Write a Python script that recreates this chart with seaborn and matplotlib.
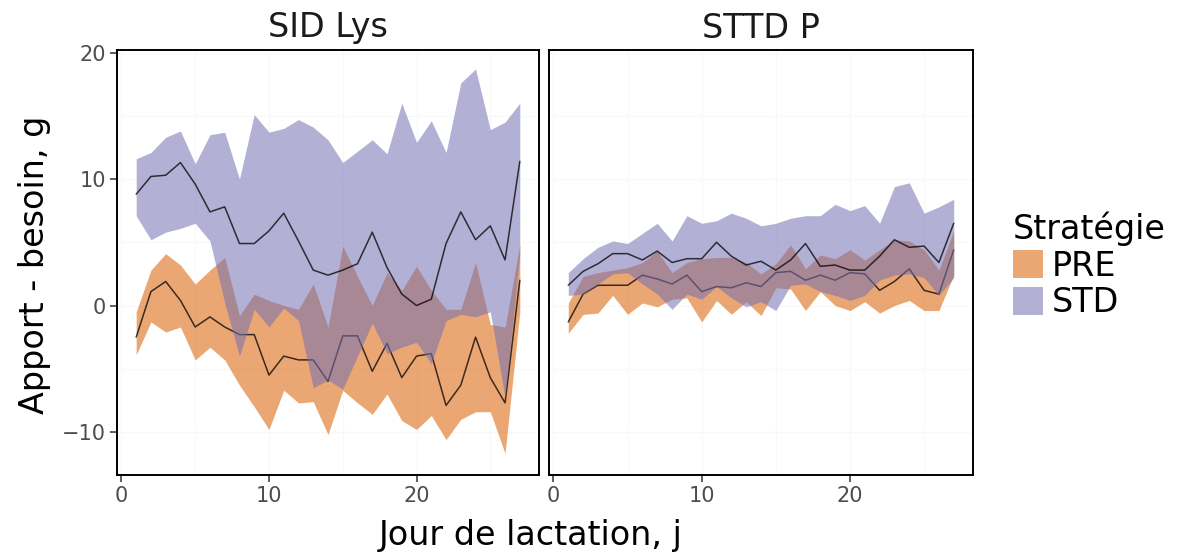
import matplotlib
matplotlib.use("Agg")
import matplotlib.pyplot as plt
from matplotlib.patches import Patch
import seaborn as sns

sns.set_theme(style="white")
plt.rcParams["font.family"] = ["DejaVu Sans"]
plt.rcParams["text.color"] = "black"

# Lactation day
days = [1, 2, 3, 4, 5, 6, 7, 8, 9, 10, 11, 12, 13, 14, 15, 16, 17, 18, 19, 20,
        21, 22, 23, 24, 25, 26, 27]

# SID Lys: supply minus requirement (g), mean and ribbon limits
lys_pre_mean = [-2.5, 1.1, 1.9, 0.4, -1.7, -0.9, -1.7, -2.3, -2.3, -5.5, -4.0, -4.3, -4.3, -6.0,
                -2.4, -2.4, -5.2, -3.0, -5.7, -4.0, -3.8, -7.9, -6.3, -2.5, -5.7, -7.7, 2.0]
lys_pre_lo = [-3.9, -1.3, -2.1, -1.7, -4.3, -3.3, -4.3, -6.3, -8.0, -9.8, -6.7, -7.7, -7.6, -10.2,
              -6.7, -7.7, -8.6, -7.0, -9.1, -9.8, -8.7, -10.6, -9.0, -8.4, -8.4, -11.7, -0.5]
lys_pre_hi = [-0.5, 2.8, 4.1, 3.2, 1.7, 2.8, 3.8, -0.8, 0.9, 0.4, 0.0, -0.3, 1.7, -1.7,
              4.7, 2.3, 0.0, 2.6, 1.2, 3.1, 1.2, -0.3, -0.3, 3.4, -1.5, -1.7, 4.8]
lys_std_mean = [8.8, 10.2, 10.3, 11.3, 9.6, 7.4, 7.8, 4.9, 4.9, 5.9, 7.3, 5.1, 2.8, 2.4,
                2.8, 3.3, 5.8, 3.0, 0.9, 0.0, 0.5, 4.9, 7.4, 5.2, 6.3, 3.6, 11.4]
lys_std_lo = [7.1, 5.2, 5.8, 6.1, 6.5, 5.1, 0.2, -4.0, -0.3, -1.7, -0.2, -1.2, -6.5, -5.9,
              -6.6, -4.0, -1.4, -3.8, -3.3, -2.9, -4.6, -1.2, -0.7, -0.9, -0.5, -7.3, 4.0]
lys_std_hi = [11.6, 12.1, 13.3, 13.8, 11.2, 13.5, 13.7, 10.0, 15.1, 13.7, 14.0, 14.7, 14.1, 13.1,
              11.3, 12.2, 13.1, 12.0, 16.0, 12.9, 14.6, 12.1, 17.6, 18.7, 13.9, 14.5, 16.0]

# STTD P: supply minus requirement (g), mean and ribbon limits
p_pre_mean = [-1.3, 0.9, 1.6, 1.6, 1.6, 2.4, 2.1, 1.7, 2.4, 1.1, 1.5, 1.4, 1.8, 1.5,
              2.6, 2.7, 2.0, 2.4, 2.0, 2.6, 2.5, 1.2, 1.9, 2.9, 1.2, 0.9, 4.4]
p_pre_lo = [-2.2, -0.7, -0.6, 0.8, -0.7, 0.2, -0.1, 0.5, 0.6, -1.3, 0.4, -0.7, 0.3, -0.8,
            1.4, 1.3, -0.4, 1.1, 0.0, -0.4, 0.3, -0.6, 0.0, 0.4, -0.4, -0.4, 2.4]
p_pre_hi = [0.2, 2.3, 2.6, 2.8, 3.0, 3.4, 4.3, 2.6, 3.4, 3.7, 3.8, 3.8, 3.4, 2.5,
            3.3, 4.8, 2.9, 4.0, 3.7, 4.4, 3.6, 4.4, 5.2, 5.1, 4.4, 2.8, 5.9]
p_std_mean = [1.6, 2.7, 3.3, 4.1, 4.1, 3.6, 4.3, 3.4, 3.7, 3.7, 5.0, 3.9, 3.2, 3.5,
              2.8, 3.6, 4.9, 3.1, 3.2, 2.8, 2.8, 3.9, 5.2, 4.6, 4.7, 3.4, 6.5]
p_std_lo = [0.8, 0.9, 1.7, 2.5, 2.6, 1.7, 0.9, -0.3, 0.9, 0.5, 1.5, 0.6, -0.1, 0.3,
            -0.4, 1.6, 1.7, 1.1, 0.8, 0.4, 0.8, 2.0, 2.4, 2.5, 2.2, 0.8, 2.2]
p_std_hi = [2.6, 3.7, 4.6, 5.1, 4.9, 5.7, 6.5, 5.1, 7.1, 6.5, 6.7, 7.3, 6.9, 6.3,
            6.5, 6.9, 7.1, 7.1, 8.0, 7.5, 7.9, 6.5, 9.4, 9.7, 7.3, 7.8, 8.4]

panels = ["SID Lys", "STTD P"]
strategies = ["PRE", "STD"]
colors = {"PRE": "#D95F02", "STD": "#7570B3"}
fill_alpha = 0.55

panel_data = {
    "SID Lys": {
        "PRE": (lys_pre_mean, lys_pre_lo, lys_pre_hi),
        "STD": (lys_std_mean, lys_std_lo, lys_std_hi),
    },
    "STTD P": {
        "PRE": (p_pre_mean, p_pre_lo, p_pre_hi),
        "STD": (p_std_mean, p_std_lo, p_std_hi),
    },
}

W, H = 1178, 554
fig = plt.figure(figsize=(W / 100, H / 100), dpi=100)
fig.patch.set_facecolor("white")

ax1 = fig.add_axes([117 / W, 1 - 475 / H, 422 / W, 425 / H])
ax2 = fig.add_axes([549 / W, 1 - 475 / H, 424 / W, 425 / H], sharey=ax1)

for ax, name in zip([ax1, ax2], panels):
    ax.set_xlim(-0.3, 28.3)
    ax.set_ylim(-13.4, 20.2)
    # very faint background grid
    for gx in [0, 5, 10, 15, 20, 25]:
        ax.axvline(gx, color="#F8F8F8", lw=0.8, zorder=0)
    for gy in [-10, -5, 0, 5, 10, 15, 20]:
        ax.axhline(gy, color="#F8F8F8", lw=0.8, zorder=0)

    # each strategy: ribbon first, then its mean line; STD layered over PRE
    z = 1
    for strat in strategies:
        mean, lo, hi = panel_data[name][strat]
        ax.fill_between(days, lo, hi, color=colors[strat], alpha=fill_alpha,
                        linewidth=0, zorder=z)
        sns.lineplot(x=days, y=mean, ax=ax, color="black", alpha=0.75,
                     linewidth=1.1, estimator=None, zorder=z + 1)
        z += 2

    ax.set_title(name, fontsize=24, pad=9, color="#1A1A1A")
    ax.set_xticks([0, 10, 20])
    ax.set_yticks([-10, 0, 10, 20])
    ax.set_xlabel("")
    ax.set_ylabel("")
    for sp in ax.spines.values():
        sp.set_visible(True)
        sp.set_color("black")
        sp.set_linewidth(1.4)
        sp.set_zorder(10)
    ax.tick_params(axis="both", direction="out", length=5, width=1.1,
                   color="#333333", labelcolor="#4D4D4D", labelsize=15, pad=3)

ax1.tick_params(axis="y", left=True)
ax1.tick_params(axis="x", bottom=True)
ax2.tick_params(axis="x", bottom=True)
ax2.tick_params(axis="y", left=False, labelleft=False)

fig.text(35 / W, 1 - 265 / H, "Apport - besoin, g", rotation=90, ha="center",
         va="center", fontsize=24, color="black")
fig.text(531 / W, 1 - 536 / H, "Jour de lactation, j", ha="center",
         va="center", fontsize=24, color="black")

handles = [Patch(facecolor=colors[s], alpha=fill_alpha, edgecolor="none") for s in strategies]
leg = fig.legend(handles, strategies, title="Stratégie", loc="upper left",
                 bbox_to_anchor=(1013 / W, 1 - 211 / H), frameon=False,
                 fontsize=24, title_fontsize=24, handlelength=0.9,
                 handleheight=0.9, handletextpad=0.25, labelspacing=0.12,
                 borderaxespad=0, borderpad=0)
leg._legend_box.align = "left"
leg.get_title().set_color("black")
for t in leg.get_texts():
    t.set_color("black")

fig.savefig("out.png", dpi=100, facecolor="white")
